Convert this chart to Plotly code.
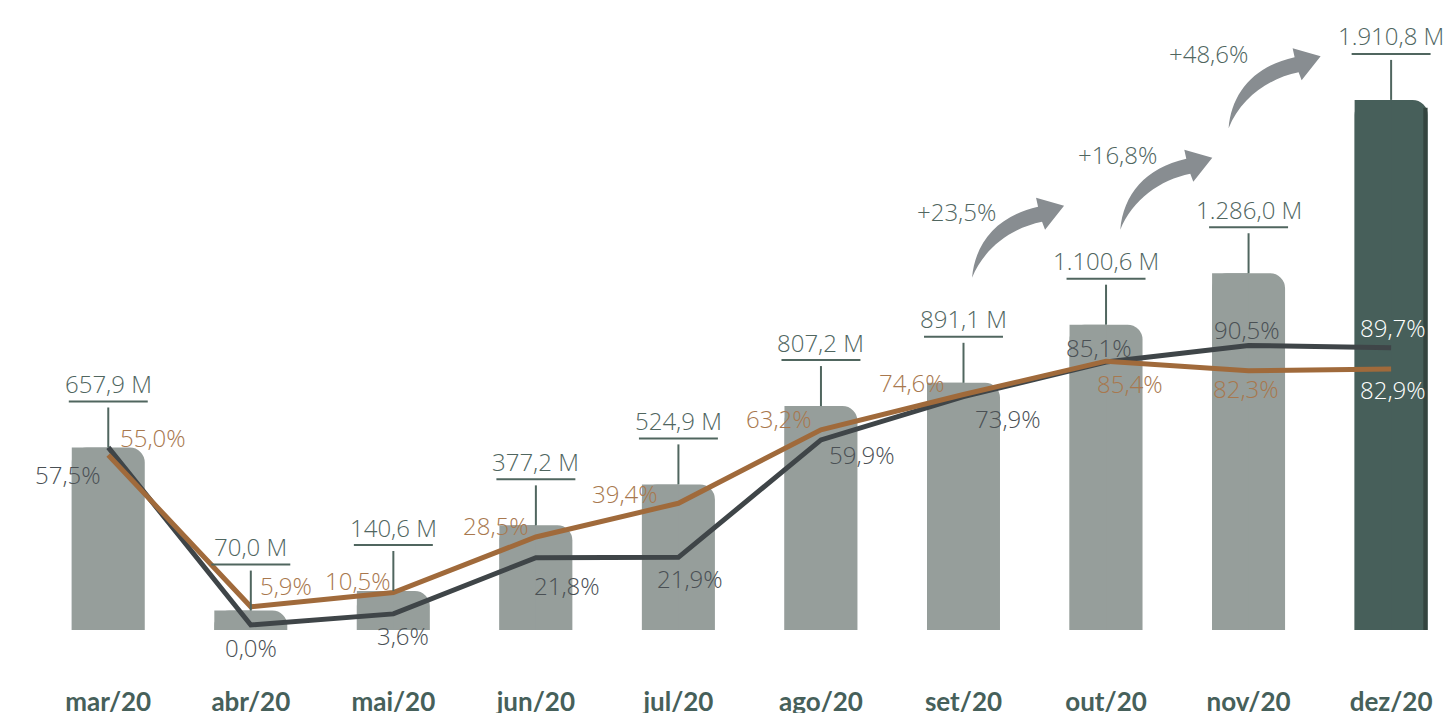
import plotly.graph_objects as go

months = ['mar/20', 'abr/20', 'mai/20', 'jun/20', 'jul/20', 'ago/20', 'set/20', 'out/20', 'nov/20', 'dez/20']
volume_m = [657.9, 70.0, 140.6, 377.2, 524.9, 807.2, 891.1, 1100.6, 1286.0, 1910.8]
pct_dark = [57.5, 0.0, 3.6, 21.8, 21.9, 59.9, 73.9, 85.1, 90.5, 89.7]
pct_brown = [55.0, 5.9, 10.5, 28.5, 39.4, 63.2, 74.6, 85.4, 82.3, 82.9]
growth_pairs = [(6, 7), (7, 8), (8, 9)]

GRAY = '#969e9b'
DARK_BAR = '#475f5a'
LABEL = '#50665f'
LINE_DARK = '#3f4548'
LINE_BROWN = '#a06a3b'
TXT_DARK = '#4a5054'
TXT_BROWN = '#a8784e'
ARROW = '#888d91'
FONT = 'Open Sans'
TXT_SIZE = 24


def br_num(v):
    s = f"{v:,.1f}"
    return s.replace(',', '#').replace('.', ',').replace('#', '.')


def br_pct(v):
    return f"{v:.1f}".replace('.', ',') + '%'


n = len(months)
bar_colors = [GRAY] * (n - 1) + [DARK_BAR]
bw = 0.512

fig = go.Figure()
# full bar with rounded top corners
fig.add_trace(go.Bar(x=months, y=volume_m, width=bw, marker_color=bar_colors,
                     marker_cornerradius=15, marker_line_width=0, hoverinfo='skip'))
# left half, square, keeps the top-left corner straight
fig.add_trace(go.Bar(x=months, y=volume_m, width=bw / 2, offset=-bw / 2, marker_color=bar_colors,
                     marker_line_width=0, hoverinfo='skip'))
# darker right edge on the last bar
fig.add_trace(go.Bar(x=months[-1:], y=[volume_m[-1] * 0.985], width=0.03, offset=bw / 2 - 0.03,
                     marker_color='#34443f', marker_line_width=0, hoverinfo='skip'))

fig.add_trace(go.Scatter(x=months, y=pct_dark, yaxis='y2', mode='lines',
                         line=dict(color=LINE_DARK, width=5), hoverinfo='skip'))
fig.add_trace(go.Scatter(x=months, y=pct_brown, yaxis='y2', mode='lines',
                         line=dict(color=LINE_BROWN, width=5), hoverinfo='skip'))

# label offsets (px) from each line point
dark_shift = [(-40, -27), (0, -22), (10, -22), (31, -28), (12, -21),
              (41, -15), (44, -22), (-7, 15), (-2, 16), (2, 20)]
brown_shift = [(45, 18), (35, 21), (-35, 12), (-40, 11), (-53, 10),
               (-42, 11), (-52, 12), (24, -22), (-3, -18), (2, -21)]

shapes = []
annotations = []
for series, shifts, col in [(pct_dark, dark_shift, TXT_DARK), (pct_brown, brown_shift, TXT_BROWN)]:
    for i, (v, (sx, sy)) in enumerate(zip(series, shifts)):
        annotations.append(dict(x=i, y=v, xref='x', yref='y2', xshift=sx, yshift=sy,
                                showarrow=False, text=br_pct(v),
                                font=dict(family=FONT, size=TXT_SIZE, weight=300,
                                          color='white' if i == n - 1 else col)))

for i, v in enumerate(volume_m):
    shapes.append(dict(type='line', xref='x', yref='y', ysizemode='pixel', yanchor=v,
                       x0=i - 0.277, x1=i + 0.277, y0=46, y1=46,
                       line=dict(color=LABEL, width=2)))
    shapes.append(dict(type='line', xref='x', yref='y', ysizemode='pixel', yanchor=v,
                       x0=i, x1=i, y0=0, y1=40, line=dict(color=LABEL, width=2)))
    annotations.append(dict(x=i, y=v, xref='x', yref='y', yshift=64, showarrow=False,
                            text=br_num(v) + ' M',
                            font=dict(family=FONT, size=TXT_SIZE, weight=300, color=LABEL)))

# curved growth arrows: x offset in categories, tail height above start bar (px), label shift
arrow_style = [(0.06, 105, (-16, 66)), (0.10, 95, (-3, 75)), (-0.14, 145, (-20, 75))]
arrow_pts = [('M', [(0, 0)]), ('C', [(3, 35), (25, 62), (66, 71)]), ('L', [(64, 80)]),
             ('L', [(92, 72)]), ('L', [(73, 48)]), ('L', [(70, 56)]),
             ('C', [(40, 50), (12, 30), (0, 0)])]


def arrow_path(dy):
    parts = []
    for cmd, pts in arrow_pts:
        parts.append(cmd + ' ' + ' '.join(f'{x},{y + dy}' for x, y in pts))
    return ' '.join(parts) + ' Z'


for (a, b), (dx, dy, (lx, ly)) in zip(growth_pairs, arrow_style):
    shapes.append(dict(type='path', xref='x', yref='y', xsizemode='pixel', ysizemode='pixel',
                       xanchor=a + dx, yanchor=volume_m[a], path=arrow_path(dy),
                       fillcolor=ARROW, line=dict(width=0)))
    g = (volume_m[b] / volume_m[a] - 1) * 100
    annotations.append(dict(x=a + dx, y=volume_m[a], xref='x', yref='y', xshift=lx, yshift=dy + ly,
                            showarrow=False, text='+' + br_pct(g),
                            font=dict(family=FONT, size=TXT_SIZE, weight=300, color=LABEL)))

fig.update_layout(
    width=1444, height=713,
    margin=dict(l=37, r=3, t=0, b=83),
    paper_bgcolor='white', plot_bgcolor='white',
    barmode='overlay', showlegend=False,
    xaxis=dict(type='category', range=[-0.5, 9.35], showgrid=False, zeroline=False, showline=False,
               tickfont=dict(family='Lato', size=26, weight='bold', color='#46605a'),
               ticklabelstandoff=54, automargin=False),
    yaxis=dict(range=[0, 2271], visible=False, showgrid=False),
    yaxis2=dict(range=[-1.62, 202.3], overlaying='y', visible=False, showgrid=False),
    shapes=shapes, annotations=annotations,
)

fig.write_html('out.html', config={'displayModeBar': False},
               post_script="document.body.style.margin='0';")
